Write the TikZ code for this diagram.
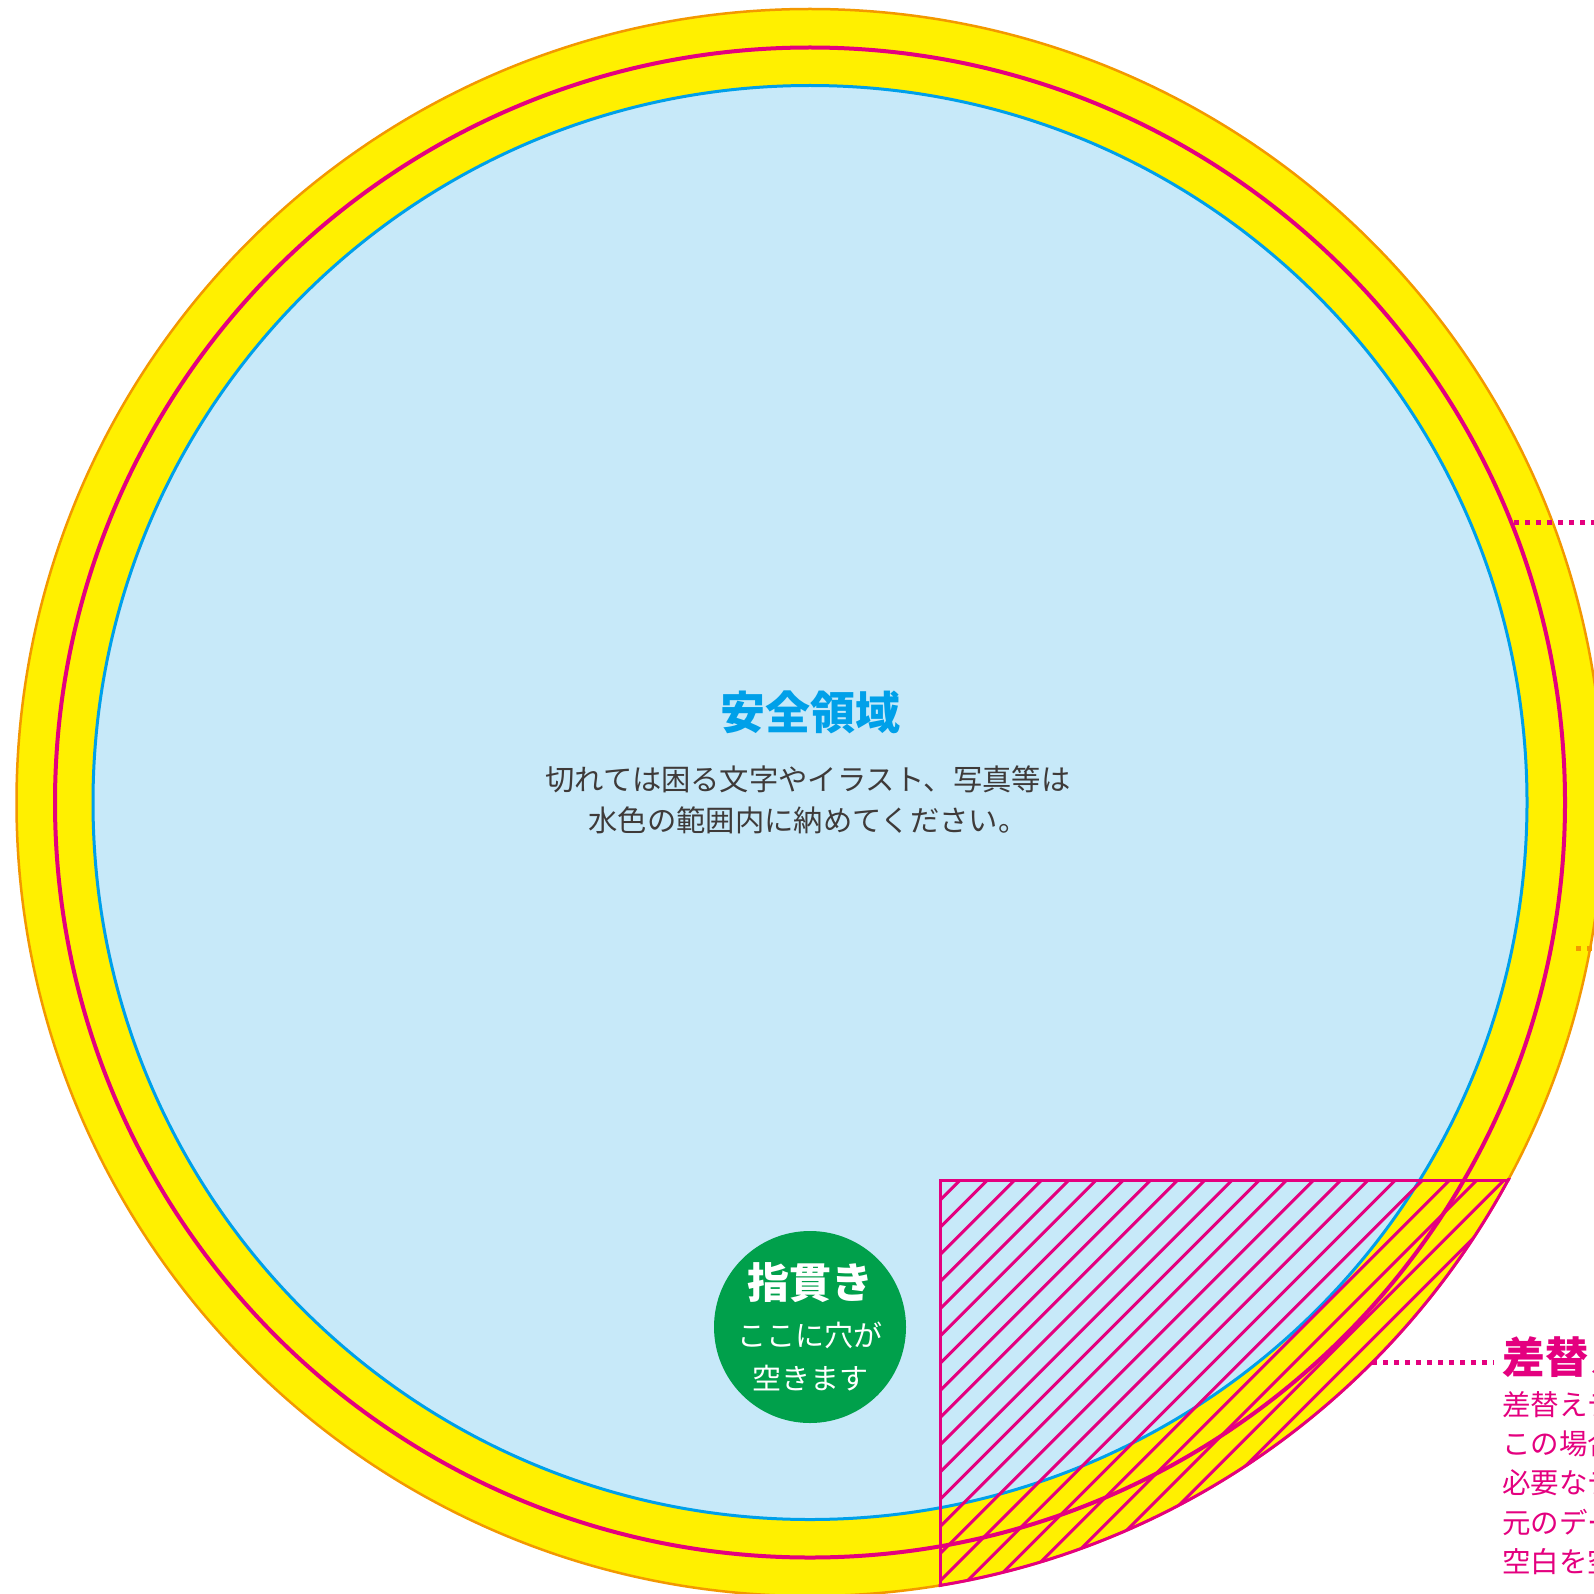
\documentclass[tikz,border=0pt]{standalone}
\usepackage{fontspec}
\newfontfamily\jp{Noto Sans CJK JP}
\definecolor{ringyellow}{RGB}{255,240,0}
\definecolor{ringorange}{RGB}{243,152,0}
\definecolor{mag}{RGB}{228,0,127}
\definecolor{safeblue}{RGB}{0,160,233}
\definecolor{safefill}{RGB}{199,233,249}
\definecolor{holegreen}{RGB}{0,160,75}
\definecolor{textgray}{RGB}{62,58,57}
\begin{document}
\begin{tikzpicture}[x=1pt,y=-1pt,
  outerring/.style={circle, inner sep=0pt, outer sep=0pt, fill=ringyellow, draw=ringorange, line width=2.5pt, minimum size=1587pt},
  safearea/.style={circle, inner sep=0pt, outer sep=0pt, fill=safefill, draw=safeblue, line width=3pt, minimum size=1434pt},
  cutcircle/.style={circle, inner sep=0pt, outer sep=0pt, draw=mag, line width=4pt, minimum size=1510pt},
  hatchline/.style={draw=mag, line width=3pt},
  hatchedge/.style={draw=mag, line width=3pt},
  leader/.style={line width=5pt, dash pattern=on 5pt off 6pt},
  holedisc/.style={circle, inner sep=0pt, outer sep=0pt, fill=holegreen, minimum size=192pt},
  lbl/.style={inner sep=0pt, outer sep=0pt}
]
\useasboundingbox (0,0) rectangle (1594,1594);
\fill[white] (0,0) rectangle (1594,1594);
\coordinate (C) at (810,802.5);

% rings
\node (outer) [outerring] at (C) {};
\node (safe) [safearea] at (C) {};
\node (cut) [cutcircle] at (C) {};

% hatched replacement area
\begin{scope}
  \clip (940,1180) rectangle (1700,1700);
  \clip (C) circle[radius=793.5pt];
  \foreach \k in {-16,...,9}{
    \draw[hatchline] ({2521+27.2*\k-1700},1700) -- ({2521+27.2*\k-1100},1100);
  }
\end{scope}
\begin{scope}
  \clip (938.5,1178.5) rectangle (1700,1700);
  \draw[hatchedge] (C) circle[radius=793.5pt];
\end{scope}
\begin{scope}
  \clip (C) circle[radius=795pt];
  \draw[hatchedge] (940,1700) -- (940,1180) -- (1700,1180);
\end{scope}

% safe area text
\node (safetitle) [lbl, font={\jp\bfseries\fontsize{45}{50}\selectfont}, text=safeblue] at (810,712) {安全領域};
\node (safeline1) [lbl, font={\jp\fontsize{29.3}{35}\selectfont}, text=textgray] at (808,779) {切れては困る文字やイラスト、写真等は};
\node (safeline2) [lbl, font={\jp\fontsize{29.3}{35}\selectfont}, text=textgray] at (808,820) {水色の範囲内に納めてください。};

% finger hole
\node (hole) [holedisc] at (810,1327) {};
\node (holetitle) [lbl, font={\jp\bfseries\fontsize{42}{46}\selectfont}, text=white] at (810,1283) {指貫き};
\node (holeline1) [lbl, font={\jp\fontsize{29}{33}\selectfont}, text=white] at (810,1335) {ここに穴が};
\node (holeline2) [lbl, font={\jp\fontsize{29}{33}\selectfont}, text=white] at (810,1378) {空きます};

% leaders
\coordinate (la1) at (1514,522);
\coordinate (la2) at (1600,522);
\draw[leader, mag] (la1) -- (la2);
\coordinate (lb1) at (1576,948);
\coordinate (lb2) at (1600,948);
\draw[leader, ringorange] (lb1) -- (lb2);
\coordinate (lc1) at (1372,1362);
\coordinate (lc2) at (1494,1362);
\draw[leader, mag] (lc1) -- (lc2);

% replacement area text (runs off the page, as in the reference)
\node (reptitle) [lbl, anchor=west, font={\jp\bfseries\fontsize{43}{48}\selectfont}, text=mag] at (1502,1357) {差替えエリア};
\node (rep1) [lbl, anchor=west, font={\jp\fontsize{28.5}{33}\selectfont}, text=mag] at (1502,1405) {差替えデータがある場合、};
\node (rep2) [lbl, anchor=west, font={\jp\fontsize{28.5}{33}\selectfont}, text=mag] at (1502,1444) {この場合は差替え部分に};
\node (rep3) [lbl, anchor=west, font={\jp\fontsize{28.5}{33}\selectfont}, text=mag] at (1502,1483) {必要なデータを入れて、};
\node (rep4) [lbl, anchor=west, font={\jp\fontsize{28.5}{33}\selectfont}, text=mag] at (1502,1523) {元のデータの該当部分は};
\node (rep5) [lbl, anchor=west, font={\jp\fontsize{28.5}{33}\selectfont}, text=mag] at (1502,1562) {空白を空けてください。};
\end{tikzpicture}
\end{document}
